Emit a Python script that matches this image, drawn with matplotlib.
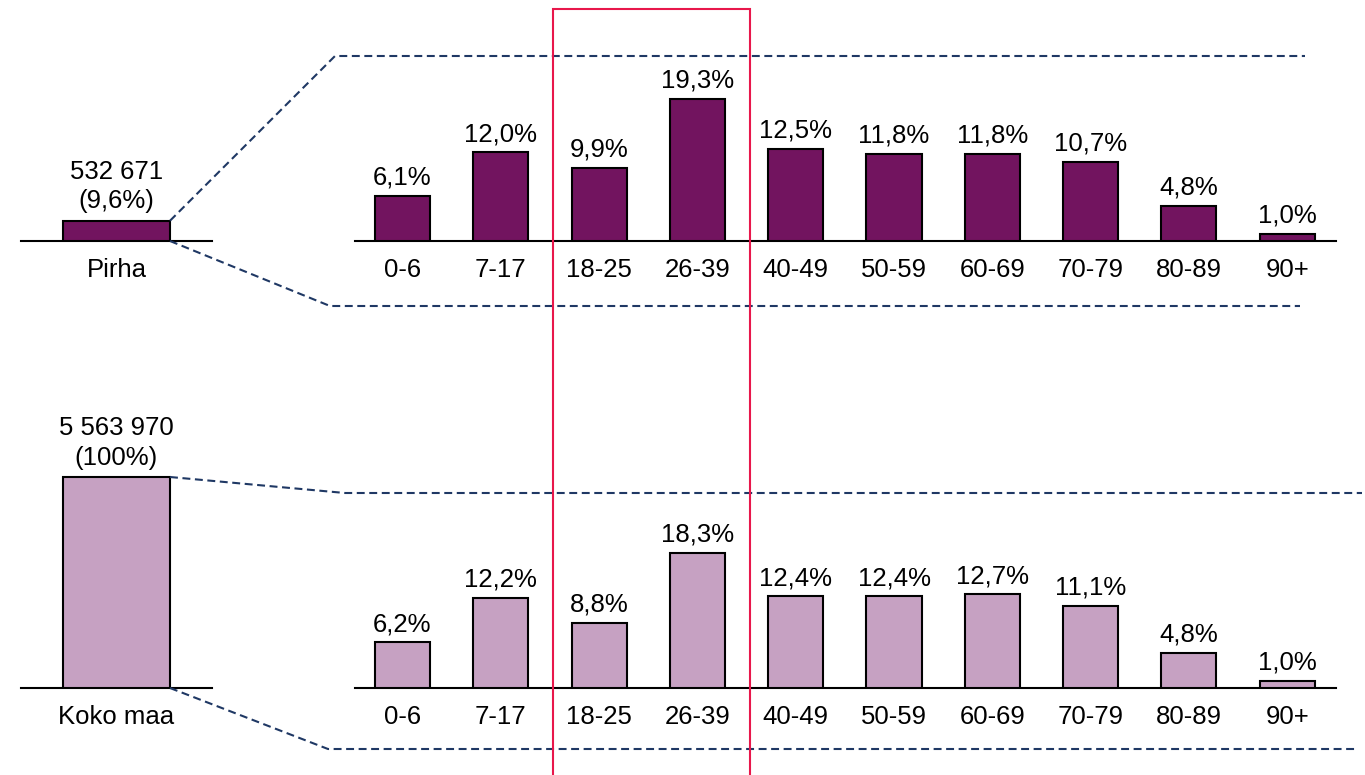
import matplotlib
matplotlib.use("Agg")
import matplotlib.pyplot as plt
from matplotlib.lines import Line2D
from matplotlib.patches import Rectangle

plt.rcParams['font.family'] = ['Liberation Sans', 'DejaVu Sans']

# ---- data ----
ages = ['0-6', '7-17', '18-25', '26-39', '40-49', '50-59', '60-69', '70-79', '80-89', '90+']
pirha_pct = [6.1, 12.0, 9.9, 19.3, 12.5, 11.8, 11.8, 10.7, 4.8, 1.0]
koko_pct = [6.2, 12.2, 8.8, 18.3, 12.4, 12.4, 12.7, 11.1, 4.8, 1.0]
regions = ['Pirha', 'Koko maa']
populations = [532671, 5563970]
shares = [9.6, 100.0]

# ---- style ----
DARK = '#72145F'
LIGHT = '#C6A1C2'
NAVY = '#1F3864'
RED = '#E8174B'
FS = 18.5

W, H = 1365, 775
fig = plt.figure(figsize=(W / 100, H / 100), dpi=100)


def px_axes(x0, x1, y_base, y_top):
    return fig.add_axes([x0 / W, 1 - y_base / H, (x1 - x0) / W, (y_base - y_top) / H])


def clean(ax):
    for s in ('top', 'left', 'right'):
        ax.spines[s].set_visible(False)
    ax.spines['bottom'].set_linewidth(1.5)
    ax.tick_params(left=False, bottom=False, labelleft=False, labelbottom=False)
    ax.patch.set_alpha(0)


def fmt_pct(v):
    return f"{v:.1f}%".replace('.', ',')


def fmt_int(v):
    return f"{v:,}".replace(',', ' ')


# pixel layout: (baseline y, colour, age values)
rows = [(241, DARK, pirha_pct), (688, LIGHT, koko_pct)]
px_per_pct = 7.38
step, c0 = 98.3, 402.5
px_per_share = 2.11

ax_left = []
for i, (ybase, col, vals) in enumerate(rows):
    # left: total population bar
    axl = px_axes(21, 212, ybase, ybase - 230)
    clean(axl)
    axl.set_xlim((21 - 116.5) / 107, (212 - 116.5) / 107)
    axl.set_ylim(0, 230 / px_per_share)
    axl.bar([0], [shares[i]], width=1.0, color=col, edgecolor='black', linewidth=1.5, zorder=3)
    axl.annotate(f"({fmt_pct(shares[i]) if shares[i] < 100 else '100%'})",
                 (0, shares[i]), xytext=(0, 9), textcoords='offset points',
                 ha='center', va='baseline', fontsize=FS, annotation_clip=False)
    axl.annotate(fmt_int(populations[i]), (0, shares[i]), xytext=(0, 30),
                 textcoords='offset points', ha='center', va='baseline',
                 fontsize=FS, annotation_clip=False)
    axl.annotate(regions[i], (0, 0), xytext=(0, -26), textcoords='offset points',
                 ha='center', va='baseline', fontsize=FS, annotation_clip=False)
    ax_left.append(axl)

    # right: age distribution
    axr = px_axes(355, 1336, ybase, ybase - 200)
    clean(axr)
    x = list(range(len(ages)))
    axr.set_xlim((355 - c0) / step, (1336 - c0) / step)
    axr.set_ylim(0, 200 / px_per_pct)
    axr.bar(x, vals, width=0.56, color=col, edgecolor='black', linewidth=1.5, zorder=3)
    for xi, v, lab in zip(x, vals, ages):
        axr.annotate(fmt_pct(v), (xi, v), xytext=(0, 8), textcoords='offset points',
                     ha='center', va='baseline', fontsize=FS, annotation_clip=False)
        axr.annotate(lab, (xi, 0), xytext=(0, -26), textcoords='offset points',
                     ha='center', va='baseline', fontsize=FS, annotation_clip=False)

# ---- dashed zoom connectors ----
inv = fig.transFigure.inverted()
connectors = [
    # (row, corner value, knee px, end x px)
    (0, shares[0], (335, 56), 1305),
    (0, 0.0, (330, 306), 1300),
    (1, shares[1], (345, 493), 1362),
    (1, 0.0, (328, 749), 1358),
]
for row, yv, (kx, ky), ex in connectors:
    start = inv.transform(ax_left[row].transData.transform((0.5, yv)))
    xs = [start[0], kx / W, ex / W]
    ys = [start[1], 1 - ky / H, 1 - ky / H]
    fig.add_artist(Line2D(xs, ys, transform=fig.transFigure, color=NAVY,
                          linewidth=1.5, linestyle=(0, (3.8, 2.2))))

# ---- highlight box ----
fig.add_artist(Rectangle((553 / W, -0.05), (750 - 553) / W, 1.05 - 9 / H,
                         transform=fig.transFigure, fill=False,
                         edgecolor=RED, linewidth=1.5, zorder=10))

fig.savefig('out.png', dpi=100, facecolor='white')
